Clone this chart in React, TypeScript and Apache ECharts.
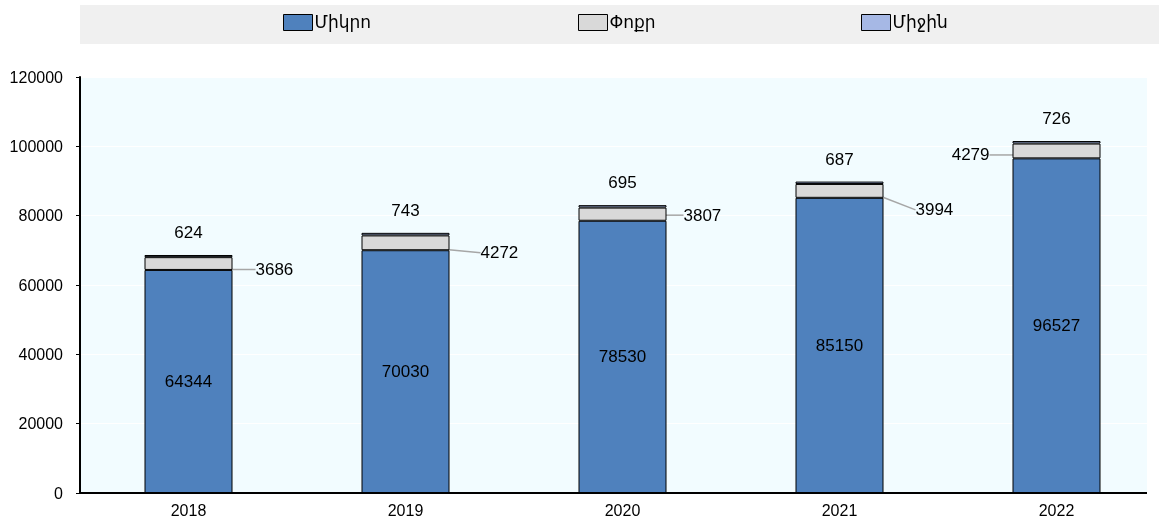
import React, { useEffect, useRef } from "react";
import * as echarts from "echarts";

const years = ["2018", "2019", "2020", "2021", "2022"];
const micro = [64344, 70030, 78530, 85150, 96527];
const small = [3686, 4272, 3807, 3994, 4279];
const medium = [624, 743, 695, 687, 726];
const seriesNames = ["Միկրո", "Փոքր", "Միջին"];
const colors = ["#4F81BD", "#D9D9D9", "#A6B8E5"];

const FONT = "'Liberation Sans', 'DejaVu Sans', Arial, sans-serif";

export default function App() {
  const ref = useRef<HTMLDivElement>(null);
  useEffect(() => {
    const chart = echarts.init(ref.current!, null, { renderer: "svg" });
    const legendLefts = [283, 578, 861];
    const labelDx = [18, 26, 12, 27];
    const labelDy = [6, 10, 1, 19, 4];
    chart.setOption({
      animation: false,
      textStyle: { fontFamily: FONT },
      graphic: [
        {
          type: "rect",
          shape: { x: 80, y: 5, width: 1079, height: 39 },
          style: { fill: "#F0F0F0" },
          silent: true,
          z: -10,
        },
        {
          type: "rect",
          shape: { x: 1147, y: 60, width: 30, height: 458 },
          style: { fill: "#FFFFFF" },
          silent: true,
          z: 100,
        },
      ],
      legend: seriesNames.map((n, i) => ({
        data: [n],
        left: legendLefts[i],
        top: 14,
        itemWidth: 29,
        itemHeight: 16,
        itemGap: 0,
        padding: 0,
        icon: "rect",
        selectedMode: false,
        itemStyle: { borderColor: "#000", borderWidth: 1 },
        textStyle: { fontSize: 17, color: "#000", fontFamily: FONT, padding: [0, 0, 0, -3] },
      })),
      grid: {
        left: 80,
        top: 77,
        right: 0,
        bottom: 25,
        show: true,
        backgroundColor: "#F2FCFF",
        borderWidth: 0,
      },
      xAxis: {
        type: "category",
        data: years,
        axisLine: { lineStyle: { color: "#000", width: 2 } },
        axisTick: { show: false },
        axisLabel: { fontSize: 16, color: "#000", margin: 9 },
      },
      yAxis: {
        type: "value",
        min: 0,
        max: 120000,
        interval: 20000,
        axisLine: { show: true, lineStyle: { color: "#000", width: 2 } },
        axisTick: { show: true, length: 4, lineStyle: { color: "#000" } },
        axisLabel: { fontSize: 16, color: "#000", margin: 17, formatter: (v: number) => String(v) },
        splitLine: { lineStyle: { color: "#FFFFFF", width: 1 } },
      },
      series: [
        {
          name: seriesNames[0],
          type: "bar",
          stack: "total",
          barWidth: 88,
          data: micro,
          itemStyle: { color: colors[0], borderColor: "#000", borderWidth: 1 },
          label: { show: true, position: "inside", fontSize: 17, color: "#000" },
        },
        {
          name: seriesNames[1],
          type: "bar",
          stack: "total",
          data: small,
          itemStyle: { color: colors[1], borderColor: "#000", borderWidth: 1 },
          label: { show: true, fontSize: 17, color: "#000", position: "right", distance: 5 },
          labelLine: { show: true, lineStyle: { color: "#A6A6A6", width: 1.5 } },
          labelLayout: (params: any) => {
            const i = params.dataIndex;
            if (i === 4) {
              return { dx: -(params.rect.width + 5 + 23 + params.labelRect.width), dy: labelDy[i] };
            }
            return { dx: labelDx[i], dy: labelDy[i] };
          },
        },
        {
          name: seriesNames[2],
          type: "bar",
          stack: "total",
          data: medium,
          itemStyle: { color: colors[2], borderColor: "#000", borderWidth: 1 },
          label: { show: true, position: "top", distance: 14, fontSize: 17, color: "#000" },
        },
      ],
    });
    return () => chart.dispose();
  }, []);
  return (
    <div
      style={{
        position: "fixed",
        left: 0,
        top: 0,
        width: 1159,
        height: 518,
        overflow: "hidden",
      }}
    >
      <div ref={ref} style={{ width: 1165, height: 518 }} />
    </div>
  );
}
